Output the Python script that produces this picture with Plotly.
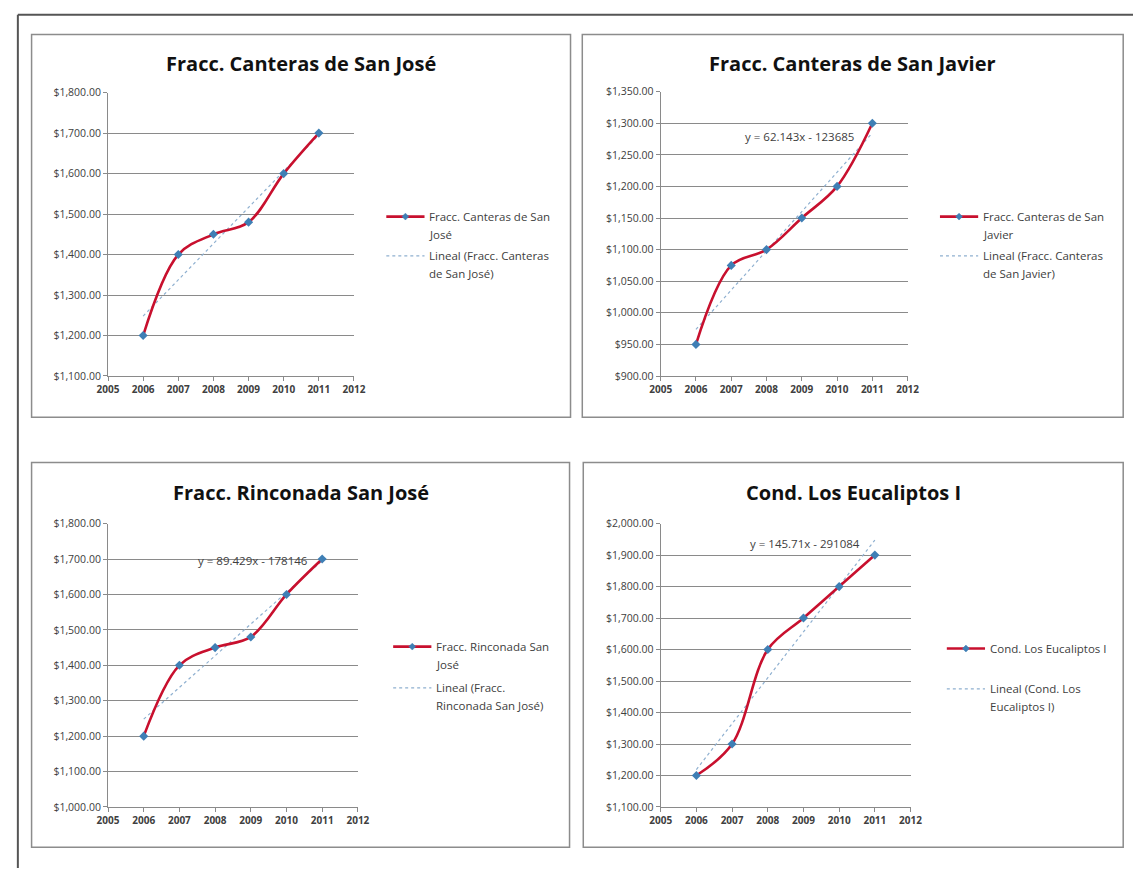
import numpy as np
import plotly.graph_objects as go

W, H = 1145, 875

years = [2006, 2007, 2008, 2009, 2010, 2011]
titles = ["Fracc. Canteras de San José", "Fracc. Canteras de San Javier",
          "Fracc. Rinconada San José", "Cond. Los Eucaliptos I"]
vals_sanjose = [1200, 1400, 1450, 1480, 1600, 1700]
vals_sanjavier = [950, 1075, 1100, 1150, 1200, 1300]
vals_rinconada = [1200, 1400, 1450, 1480, 1600, 1700]
vals_eucaliptos = [1200, 1300, 1600, 1700, 1800, 1900]
series = [vals_sanjose, vals_sanjavier, vals_rinconada, vals_eucaliptos]
legend_main = [["Fracc. Canteras de San", "José"], ["Fracc. Canteras de San", "Javier"],
               ["Fracc. Rinconada San", "José"], ["Cond. Los Eucaliptos I"]]
legend_trend = [["Lineal (Fracc. Canteras", "de San José)"], ["Lineal (Fracc. Canteras", "de San Javier)"],
                ["Lineal (Fracc.", "Rinconada San José)"], ["Lineal (Cond. Los", "Eucaliptos I)"]]
equations = [None, "y = 62.143x - 123685", "y = 89.429x - 178146", "y = 145.71x - 291084"]
y_ranges = [(1100, 1800, 100), (900, 1350, 50), (1000, 1800, 100), (1100, 2000, 100)]


def px(x):
    return x / W


def py(y):
    return 1 - y / H


# layout geometry in pixels
panels = [
    dict(box=(21, 28, 571, 417), plot=(99, 350, 87, 375), title=(296, 57),
         leg=(383, 213, 253), eq=None),
    dict(box=(583, 28, 1135, 417), plot=(663, 915, 86, 375), title=(859, 57),
         leg=(948, 213, 253), eq=(805, 132)),
    dict(box=(21, 463, 570, 854), plot=(99, 354, 525, 813), title=(296, 493),
         leg=(390, 650, 692), eq=(247, 563)),
    dict(box=(584, 463, 1135, 854), plot=(663, 918, 525, 813), title=(860, 493),
         leg=(955, 652, 693), eq=(810, 545)),
]

RED = "#C8102E"
MARK = "#3F7FB5"
TREND = "#8FB0D0"
GRID = "#8A8A8A"
TXT = "#404040"
FONT = "Open Sans"

fig = go.Figure()
shapes = []
annotations = []

# outer frame (left and top edges visible)
shapes.append(dict(type="line", xref="paper", yref="paper", x0=px(7), x1=px(7), y0=0, y1=py(8),
                   line=dict(color="#555555", width=2), layer="below"))
shapes.append(dict(type="line", xref="paper", yref="paper", x0=px(7), x1=1, y0=py(8), y1=py(8),
                   line=dict(color="#555555", width=2), layer="below"))

for i, p in enumerate(panels):
    k = "" if i == 0 else str(i + 1)
    xa, ya = "x" + k, "y" + k
    bx0, by0, bx1, by1 = p["box"]
    shapes.append(dict(type="rect", xref="paper", yref="paper", x0=px(bx0), x1=px(bx1), y0=py(by1), y1=py(by0),
                       line=dict(color="#8C8C8C", width=1.5), fillcolor="white", layer="below"))
    x0, x1, yt, yb = p["plot"]
    lo, hi, step = y_ranges[i]
    vals = series[i]
    coef = np.polyfit(years, vals, 1)
    trend_y = np.polyval(coef, years)

    fig.add_trace(go.Scatter(x=years, y=trend_y, mode="lines", xaxis=xa, yaxis=ya,
                             line=dict(color=TREND, width=1.2, dash="dot"), showlegend=False, hoverinfo="skip"))
    fig.add_trace(go.Scatter(x=years, y=vals, mode="lines+markers", xaxis=xa, yaxis=ya,
                             line=dict(color=RED, width=2.6, shape="spline", smoothing=1.0),
                             marker=dict(symbol="diamond", size=7, color=MARK),
                             showlegend=False))

    fig.layout["xaxis" + k] = dict(domain=[px(x0), px(x1)], anchor=ya, range=[2005, 2012], dtick=1, tick0=2005,
                                   showgrid=False, zeroline=False, showline=True, linecolor=GRID, linewidth=1,
                                   ticks="outside", ticklen=4, tickcolor=GRID,
                                   tickfont=dict(family=FONT, size=10, color=TXT, weight="bold"))
    fig.layout["yaxis" + k] = dict(domain=[py(yb), py(yt)], anchor=xa, range=[lo, hi], dtick=step, tick0=lo,
                                   showgrid=True, gridcolor=GRID, gridwidth=1, zeroline=False,
                                   showline=True, linecolor=GRID, linewidth=1,
                                   ticks="outside", ticklen=4, tickcolor=GRID, tickformat="$,.2f",
                                   tickfont=dict(family=FONT, size=10.5, color=TXT))

    tx, ty = p["title"]
    annotations.append(dict(x=px(tx), y=py(ty), xref="paper", yref="paper", text="<b>" + titles[i] + "</b>",
                            showarrow=False, xanchor="center", yanchor="middle",
                            font=dict(family=FONT, size=20, color="#111111")))

    lx, l1, l2 = p["leg"]
    shapes.append(dict(type="line", xref="paper", yref="paper", x0=px(lx), x1=px(lx + 39), y0=py(l1), y1=py(l1),
                       line=dict(color=RED, width=2.6)))
    cx = lx + 19.5
    shapes.append(dict(type="path", xref="paper", yref="paper",
                       path=f"M {px(cx - 3.5)} {py(l1)} L {px(cx)} {py(l1 - 3.5)} L {px(cx + 3.5)} {py(l1)} L {px(cx)} {py(l1 + 3.5)} Z",
                       fillcolor=MARK, line=dict(color=MARK, width=0.5)))
    shapes.append(dict(type="line", xref="paper", yref="paper", x0=px(lx), x1=px(lx + 39), y0=py(l2), y1=py(l2),
                       line=dict(color=TREND, width=1.2, dash="dot")))
    for j, line in enumerate(legend_main[i]):
        annotations.append(dict(x=px(lx + 42), y=py(l1 + j * 18), xref="paper", yref="paper", text=line,
                                showarrow=False, xanchor="left", yanchor="middle",
                                font=dict(family=FONT, size=11.5, color=TXT)))
    for j, line in enumerate(legend_trend[i]):
        annotations.append(dict(x=px(lx + 42), y=py(l2 + j * 18), xref="paper", yref="paper", text=line,
                                showarrow=False, xanchor="left", yanchor="middle",
                                font=dict(family=FONT, size=11.5, color=TXT)))
    if p["eq"] is not None:
        ex, ey = p["eq"]
        annotations.append(dict(x=px(ex), y=py(ey), xref="paper", yref="paper", text=equations[i],
                                showarrow=False, xanchor="center", yanchor="middle",
                                font=dict(family=FONT, size=11.5, color=TXT)))

fig.update_layout(width=W, height=H, margin=dict(l=0, r=0, t=0, b=0),
                  paper_bgcolor="white", plot_bgcolor="rgba(0,0,0,0)",
                  shapes=shapes, annotations=annotations, showlegend=False)

fig.write_html("out.html", config={"displayModeBar": False})
